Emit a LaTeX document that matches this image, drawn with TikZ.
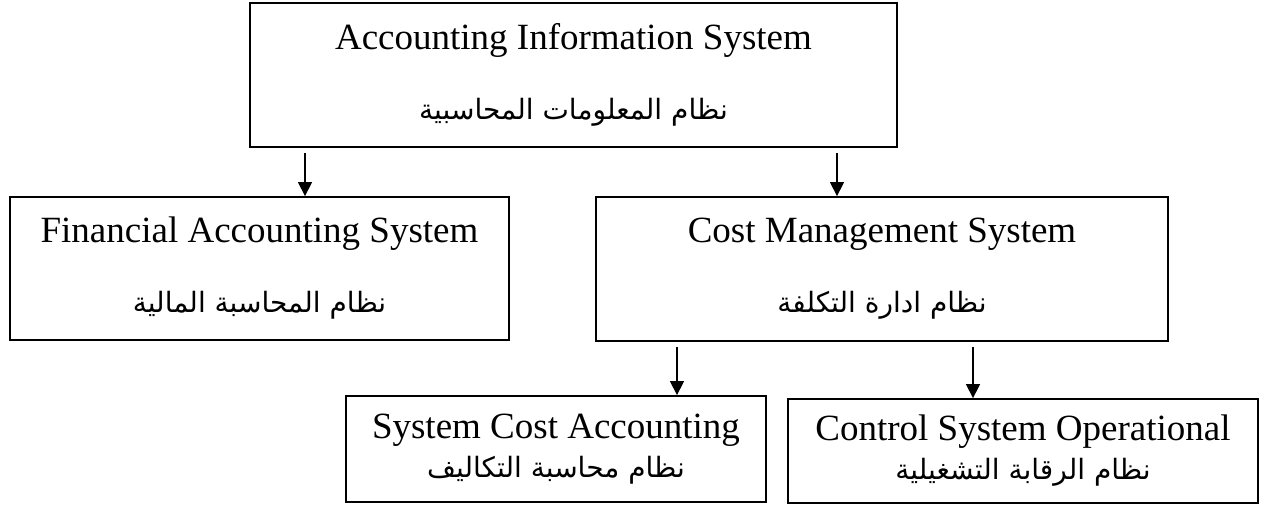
\documentclass[tikz,border=0pt]{standalone}
\usepackage{fontspec}
\setmainfont{Liberation Serif}
\newfontfamily\arabicfont[Script=Arabic]{DejaVu Sans}
\TeXXeTstate=1
\usetikzlibrary{arrows.meta}
\newcommand{\artxt}[1]{{\arabicfont\fontsize{28}{28}\selectfont\beginR #1\endR}}
\tikzset{
  sysbox/.style={draw, line width=1.8pt, align=center, inner sep=0pt,
    font=\fontsize{37}{70}\selectfont},
  subbox/.style={sysbox, font=\fontsize{37}{39}\selectfont},
  arr/.style={->, line width=1.3pt, shorten <=5pt}
}
\begin{document}
\begin{tikzpicture}[x=1pt, y=-1pt, >={Triangle[length=14pt,width=14pt]}]
\useasboundingbox (0,0) rectangle (1267,504);

\node[sysbox, minimum width=647, minimum height=144] (ais) at (573.5,75)
  {Accounting Information System\\\artxt{نظام المعلومات المحاسبية}};
\node[sysbox, minimum width=499, minimum height=143] (fas) at (259.5,268.5)
  {Financial Accounting System\\\artxt{نظام المحاسبة المالية}};
\node[sysbox, minimum width=572, minimum height=144] (cms) at (882,269)
  {Cost Management System\\\artxt{نظام ادارة التكلفة}};
\node[subbox, minimum width=420, minimum height=106] (sca) at (556,449)
  {System Cost Accounting\\\artxt{نظام محاسبة التكاليف}};
\node[subbox, minimum width=470, minimum height=104] (cso) at (1023,451)
  {Control System Operational\\\artxt{نظام الرقابة التشغيلية}};

\coordinate (x1) at (305,0);
\coordinate (x2) at (837,0);
\coordinate (x3) at (677,0);
\coordinate (x4) at (973,0);
\draw[arr] (ais.south -| x1) -- (fas.north -| x1);
\draw[arr] (ais.south -| x2) -- (cms.north -| x2);
\draw[arr] (cms.south -| x3) -- (sca.north -| x3);
\draw[arr] (cms.south -| x4) -- (cso.north -| x4);
\end{tikzpicture}
\end{document}
